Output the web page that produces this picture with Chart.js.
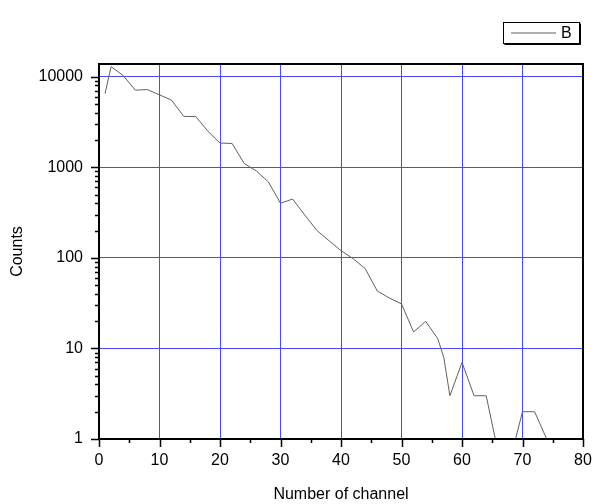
<!DOCTYPE html>
<html><head><meta charset="utf-8">
<script src="https://cdn.jsdelivr.net/npm/chart.js@4/dist/chart.umd.min.js"></script>
<style>html,body{margin:0;padding:0;background:#fff}#wrap{width:595px;height:504px}</style>
</head><body><div id="wrap"><canvas id="c" width="595" height="504"></canvas></div>
<script>
const channels = [1,2,4,6,8,10,12,14,16,18,20,22,24,26,28,30,32,34,36,38,40,42,44,46,48,50,52,54,56,57,58,60,62,64,66,68,70,72,74];
const counts   = [6500,12900,10300,7100,7200,6300,5500,3650,3620,2500,1850,1830,1100,910,690,400,446,297,201,155,120,98,76,43,36,31,15.2,19.9,12.8,7.9,3,7,3,3,0.7,0.6,2,2,1];
const xTickValues = [0,10,20,30,40,50,60,70,80];
const yTickValues = [1,10,100,1000,10000];
const seriesLabel = 'B';
const xTitle = 'Number of channel';
const yTitle = 'Counts';

const FONT = "'Liberation Sans', Arial, sans-serif";
const GRID = '#4848ff';

const framePlugin = {
  id: 'frame',
  afterDraw(chart) {
    const ctx = chart.ctx, a = chart.chartArea;
    const xs = chart.scales.x, ys = chart.scales.y;
    ctx.save();
    ctx.strokeStyle = '#000';
    ctx.lineWidth = 2;
    ctx.strokeRect(a.left, a.top, a.right - a.left, a.bottom - a.top);
    ctx.lineWidth = 1.5;
    ctx.beginPath();
    for (let v = xs.min; v <= xs.max; v += 5) {
      const px = Math.round(xs.getPixelForValue(v)) + 0.5;
      const len = (v % 10 === 0) ? 8 : 4;
      ctx.moveTo(px, a.bottom);
      ctx.lineTo(px, a.bottom + len);
    }
    for (let d = 1; d <= 10000; d *= 10) {
      for (let m = 1; m <= 9; m++) {
        const v = d * m;
        if (v < ys.min || v > ys.max) continue;
        const py = Math.round(ys.getPixelForValue(v)) + 0.5;
        const len = (m === 1) ? 8 : 4;
        ctx.moveTo(a.left, py);
        ctx.lineTo(a.left - len, py);
      }
    }
    ctx.stroke();
    const ds = chart.data.datasets[0];
    const bx = 503.5, by = 22.5, bw = 76, bh = 21;
    ctx.fillStyle = '#fff';
    ctx.fillRect(bx, by, bw, bh);
    ctx.lineWidth = 1;
    ctx.strokeStyle = '#000';
    ctx.strokeRect(bx, by, bw, bh);
    ctx.beginPath();
    ctx.moveTo(bx + 1, by + bh + 1); ctx.lineTo(bx + bw + 1, by + bh + 1); ctx.lineTo(bx + bw + 1, by + 1);
    ctx.stroke();
    ctx.strokeStyle = ds.borderColor;
    ctx.beginPath();
    ctx.moveTo(511, 33); ctx.lineTo(556, 33);
    ctx.stroke();
    ctx.fillStyle = '#000';
    ctx.font = "16px " + FONT;
    ctx.textBaseline = 'middle';
    ctx.textAlign = 'left';
    ctx.fillText(ds.label, 561, 33.5);
    ctx.restore();
  }
};

new Chart(document.getElementById('c'), {
  type: 'line',
  data: {
    datasets: [{
      label: seriesLabel,
      data: channels.map((c, i) => ({x: c, y: counts[i]})),
      borderColor: '#606060',
      borderWidth: 1,
      pointRadius: 0,
      tension: 0,
      fill: false
    }]
  },
  options: {
    responsive: false,
    animation: false,
    devicePixelRatio: 1,
    layout: {padding: {top: 64, right: 12, left: 0, bottom: 0}},
    plugins: {legend: {display: false}, tooltip: {enabled: false}},
    scales: {
      x: {
        type: 'linear', min: 0, max: 80,
        afterBuildTicks: s => { s.ticks = xTickValues.map(v => ({value: v})); },
        afterFit: s => { s.height = 65; s.paddingLeft = 0; s.paddingRight = 0; },
        grid: {color: GRID, lineWidth: 1, drawTicks: false},
        border: {display: false},
        ticks: {color: '#000', font: {family: FONT, size: 16}, padding: 12, maxRotation: 0},
        title: {display: true, text: xTitle, color: '#000', font: {family: FONT, size: 16}, padding: {top: 0, bottom: 0}}
      },
      y: {
        type: 'logarithmic', min: 1, max: 13800,
        afterBuildTicks: s => { s.ticks = yTickValues.map(v => ({value: v})); },
        afterFit: s => { s.width = 99; s.paddingTop = 0; s.paddingBottom = 0; },
        grid: {color: GRID, lineWidth: 1, drawTicks: false},
        border: {display: false},
        ticks: {color: '#000', font: {family: FONT, size: 16}, padding: 16, callback: v => String(v)},
        title: {display: true, text: yTitle, color: '#000', font: {family: FONT, size: 16}, padding: {top: 8, bottom: 0}}
      }
    }
  },
  plugins: [framePlugin]
});
</script></body></html>
